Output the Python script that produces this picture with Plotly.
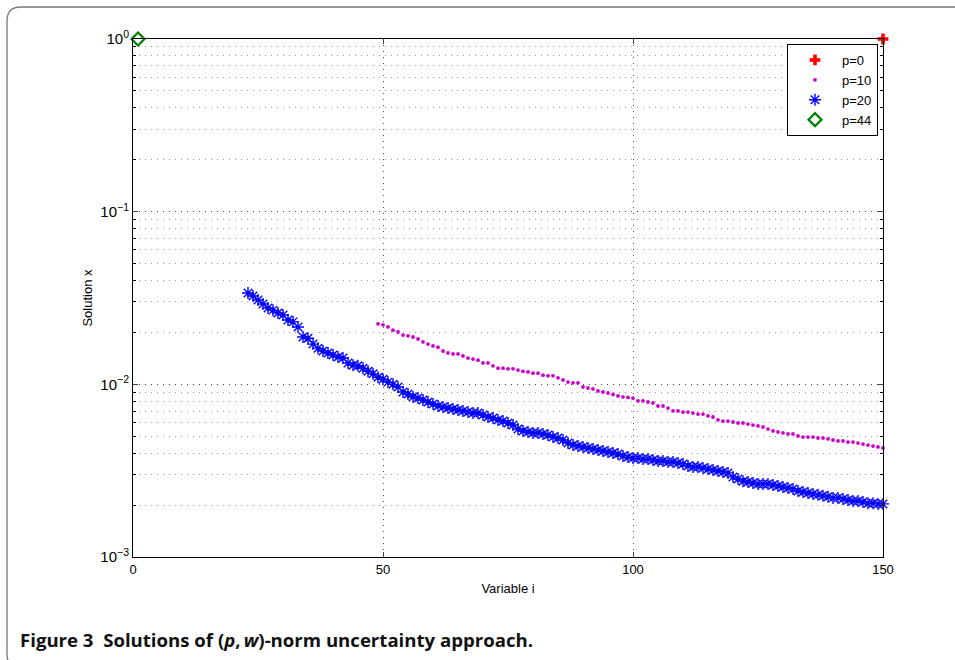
import plotly.graph_objects as go

# ---------------- data ----------------
p0_x = [150]
p0_y = [1.0]

p44_x = [1]
p44_y = [1.0]

p10_x = list(range(49, 151))
p10_y = [
    0.0224, 0.0221, 0.0215, 0.0206, 0.0201, 0.0193, 0.0191, 0.0188, 0.0183, 0.0176,
    0.0171, 0.0167, 0.0164, 0.0156, 0.0152, 0.0150, 0.0150, 0.0146, 0.0142, 0.0140,
    0.0138, 0.0133, 0.0133, 0.0128, 0.0124, 0.0124, 0.0123, 0.0123, 0.0121, 0.0119,
    0.0118, 0.0116, 0.0116, 0.0113, 0.0112, 0.0112, 0.0109, 0.0106, 0.0103, 0.0102,
    0.0102, 0.00965, 0.00952, 0.00940, 0.00915, 0.00903, 0.00891, 0.00873, 0.00856, 0.00845,
    0.00840, 0.00833, 0.00801, 0.00801, 0.00790, 0.00780, 0.00749, 0.00749, 0.00729, 0.00701,
    0.00701, 0.00691, 0.00691, 0.00682, 0.00673, 0.00673, 0.00656, 0.00647, 0.00622, 0.00613,
    0.00613, 0.00605, 0.00597, 0.00597, 0.00589, 0.00581, 0.00574, 0.00566, 0.00551, 0.00537,
    0.00530, 0.00523, 0.00516, 0.00516, 0.00502, 0.00495, 0.00495, 0.00495, 0.00489, 0.00489,
    0.00483, 0.00476, 0.00470, 0.00470, 0.00463, 0.00463, 0.00457, 0.00451, 0.00445, 0.00439,
    0.00434, 0.00428,
]

p20_x = list(range(23, 151))
p20_y = [
    0.0338, 0.0325, 0.0308, 0.0292, 0.0277, 0.0269, 0.0259, 0.0252, 0.0236, 0.0230,
    0.0215, 0.0188, 0.0185, 0.0171, 0.0162, 0.0156, 0.0152, 0.0148, 0.0144, 0.0142,
    0.0133, 0.0129, 0.0128, 0.0124, 0.0119, 0.0115, 0.0110, 0.0107, 0.0103, 0.0100,
    0.00965, 0.00903, 0.00879, 0.00845, 0.00833, 0.00812, 0.00790, 0.00769, 0.00749, 0.00739,
    0.00729, 0.00720, 0.00710, 0.00701, 0.00691, 0.00682, 0.00682, 0.00664, 0.00647, 0.00638,
    0.00622, 0.00613, 0.00597, 0.00581, 0.00551, 0.00537, 0.00530, 0.00523, 0.00523, 0.00516,
    0.00509, 0.00495, 0.00489, 0.00476, 0.00457, 0.00445, 0.00439, 0.00434, 0.00428, 0.00422,
    0.00417, 0.00411, 0.00406, 0.00400, 0.00395, 0.00385, 0.00379, 0.00374, 0.00374, 0.00369,
    0.00369, 0.00365, 0.00360, 0.00360, 0.00355, 0.00355, 0.00350, 0.00346, 0.00337, 0.00332,
    0.00332, 0.00328, 0.00323, 0.00319, 0.00315, 0.00311, 0.00307, 0.00291, 0.00283, 0.00275,
    0.00272, 0.00268, 0.00265, 0.00265, 0.00265, 0.00261, 0.00258, 0.00254, 0.00251, 0.00248,
    0.00241, 0.00238, 0.00235, 0.00232, 0.00229, 0.00226, 0.00223, 0.00220, 0.00220, 0.00217,
    0.00214, 0.00211, 0.00211, 0.00208, 0.00205, 0.00205, 0.00203, 0.00203,
]

x_ticks = [0, 50, 100, 150]
y_ticks = [0.001, 0.01, 0.1, 1]
y_tick_labels = ["10<sup>\u22123</sup>", "10<sup>\u22122</sup>", "10<sup>\u22121</sup>", "10<sup>0</sup>"]
y_minor = [m * d for d in [0.001, 0.01, 0.1] for m in range(2, 10)]

caption = "<b>Figure 3\u00a0\u00a0Solutions of (<i>p</i>,\u2009<i>w</i>)-norm uncertainty approach.</b>"

# ---------------- figure ----------------
W, H = 955, 660
ML, MR, MT, MB = 133, 72, 39, 103
PW, PH = W - ML - MR, H - MT - MB

FONT = "Liberation Sans, Arial, Helvetica, sans-serif"

fig = go.Figure()
fig.add_trace(go.Scatter(x=p0_x, y=p0_y, mode="markers", name="p=0", cliponaxis=False,
                         marker=dict(symbol="cross", size=9, color="#ff0000")))
fig.add_trace(go.Scatter(x=p10_x, y=p10_y, mode="markers", name="p=10", cliponaxis=False,
                         marker=dict(symbol="circle", size=3.8, color="#cc00cc")))
fig.add_trace(go.Scatter(x=p20_x, y=p20_y, mode="markers", name="p=20", cliponaxis=False,
                         marker=dict(symbol="asterisk-open", size=10, color="#0000ff",
                                     line=dict(color="#0000ff", width=1.4))))
fig.add_trace(go.Scatter(x=p44_x, y=p44_y, mode="markers", name="p=44", cliponaxis=False,
                         marker=dict(symbol="diamond-open", size=10, color="#008000",
                                     line=dict(color="#008000", width=2.2))))


def px(xp):
    return (xp - ML) / PW


def py(yp):
    return (H - MB - yp) / PH


# rounded frame around the figure
x0, y0, x1, y1, r = 7, 7, 985, 668, 14
path = (f"M {px(x0)},{py(y0 + r)} Q {px(x0)},{py(y0)} {px(x0 + r)},{py(y0)} "
        f"L {px(x1)},{py(y0)} L {px(x1)},{py(y1)} L {px(x0 + r)},{py(y1)} "
        f"Q {px(x0)},{py(y1)} {px(x0)},{py(y1 - r)} Z")
fig.add_shape(type="path", path=path, xref="paper", yref="paper",
              line=dict(color="#777777", width=1.3), layer="below")

fig.add_annotation(text=caption, xref="paper", yref="paper", x=px(18), y=py(639),
                   xanchor="left", yanchor="middle", showarrow=False,
                   font=dict(family="Open Sans, Noto Sans, sans-serif", size=18.6, color="#111111"))

grid_dash = "1px,5px"
fig.update_layout(
    width=W, height=H,
    margin=dict(l=ML, r=MR, t=MT, b=MB),
    paper_bgcolor="white", plot_bgcolor="white",
    font=dict(family=FONT, size=13, color="black"),
    showlegend=True,
    legend=dict(x=px(878), y=py(44), xanchor="right", yanchor="top",
                bgcolor="white", bordercolor="black", borderwidth=1,
                font=dict(family=FONT, size=13, color="black"),
                itemwidth=44, tracegroupgap=0),
    xaxis=dict(range=[0, 150], tickvals=x_ticks, ticks="inside", ticklen=5,
               showline=True, linecolor="black", linewidth=1, mirror="ticks",
               showgrid=True, gridcolor="#555555", griddash=grid_dash, gridwidth=1,
               zeroline=False, tickfont=dict(size=13),
               title=dict(text="Variable i", font=dict(size=13), standoff=8)),
    yaxis=dict(type="log", range=[-3, 0], tickvals=y_ticks, ticktext=y_tick_labels,
               ticks="inside", ticklen=5,
               showline=True, linecolor="black", linewidth=1, mirror="ticks",
               showgrid=True, gridcolor="#444444", griddash=grid_dash, gridwidth=1,
               zeroline=False, tickfont=dict(size=15),
               minor=dict(tickvals=y_minor, ticks="inside", ticklen=3, tickcolor="black",
                          showgrid=True, gridcolor="#999999", griddash=grid_dash, gridwidth=1),
               title=dict(text="Solution x", font=dict(size=13), standoff=4)),
)

fig.write_html("out.html")
